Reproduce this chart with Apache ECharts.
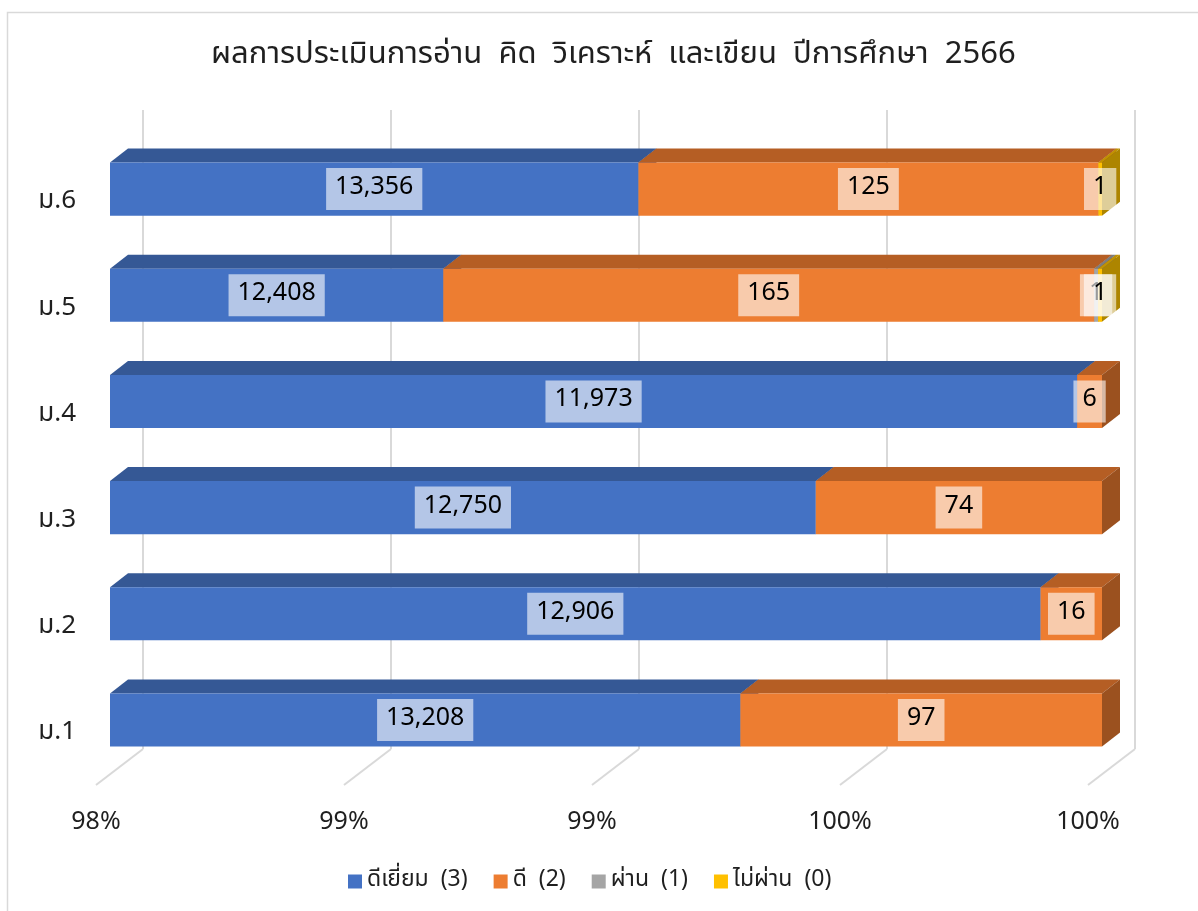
<!DOCTYPE html>
<html>
<head>
<meta charset="utf-8">
<script src="https://cdn.jsdelivr.net/npm/echarts@6/dist/echarts.min.js"></script>
<style>
  html, body { margin: 0; padding: 0; background: #ffffff; }
  #chart { width: 1198px; height: 911px; }
</style>
</head>
<body>
<div id="chart"></div>
<script>
// Reading / thinking / analysis / writing assessment, academic year 2566
const titleText = 'ผลการประเมินการอ่าน  คิด  วิเคราะห์  และเขียน  ปีการศึกษา  2566';
const grades = ['ม.1', 'ม.2', 'ม.3', 'ม.4', 'ม.5', 'ม.6'];
const levelNames = ['ดีเยี่ยม  (3)', 'ดี  (2)', 'ผ่าน  (1)', 'ไม่ผ่าน  (0)'];

// Student counts per level, one entry per grade (ม.1 … ม.6)
const excellent = [13208, 12906, 12750, 11973, 12408, 13356];
const good      = [97, 16, 74, 6, 165, 125];
const pass      = [0, 0, 0, 0, 1, 0];
const fail      = [0, 0, 0, 0, 1, 1];

// Percentage axis
const xMin = 0.98;
const xMax = 1.0;
const xStep = 0.005;
const xTickValues = [0.98, 0.985, 0.99, 0.995, 1.0];
const xTickLabels = ['98%', '99%', '99%', '100%', '100%'];

// Face colours: front, top, side
const palette = [
  { front: '#4472C4', top: '#355895', side: '#2E4D84' },
  { front: '#ED7D31', top: '#B55E24', side: '#9B511F' },
  { front: '#A5A5A5', top: '#7E7E7E', side: '#6C6C6C' },
  { front: '#FFC000', top: '#C29200', side: '#AD8500' }
];

const FONT = "'Noto Sans Thai', 'Leelawadee UI', Tahoma, 'Noto Sans', sans-serif";
const TEXT_COLOR = '#1f1f1f';

// 3D depth of each bar and of the wall/floor
const DEPTH_DX = 18, DEPTH_DY = 14;
const WALL_DX = 33, WALL_TOP = 26, FLOOR_BACK = 24, FLOOR_FRONT = 12, FLOOR_DX = 14;

const levels = [excellent, good, pass, fail];
const totals = grades.map((_, i) => levels.reduce((s, arr) => s + arr[i], 0));

// Cumulative share of each segment: [gradeIndex, startShare, endShare, count]
function segmentData(levelIdx) {
  return grades.map((_, i) => {
    let before = 0;
    for (let k = 0; k < levelIdx; k++) before += levels[k][i];
    const n = levels[levelIdx][i];
    return [i, before / totals[i], (before + n) / totals[i], n];
  });
}

function fmt(n) { return n.toLocaleString('en-US'); }

function barRenderer(levelIdx) {
  const c = palette[levelIdx];
  return function (params, api) {
    const cat = api.value(0);
    const n = api.value(3);
    const e = api.value(2);
    if (!n || e <= xMin) return null;
    const s = Math.max(api.value(1), xMin);
    const p0 = api.coord([s, cat]);
    const p1 = api.coord([e, cat]);
    const h = api.size([0, 1])[1] * 0.5;
    const x0 = p0[0], x1 = p1[0];
    const yT = p0[1] - h / 2, yB = p0[1] + h / 2;
    const children = [
      { type: 'polygon', z2: 1,
        shape: { points: [[x0, yT], [x0 + DEPTH_DX, yT - DEPTH_DY], [x1 + DEPTH_DX, yT - DEPTH_DY], [x1, yT]] },
        style: { fill: c.top } },
      { type: 'polygon', z2: 1,
        shape: { points: [[x1, yT], [x1 + DEPTH_DX, yT - DEPTH_DY], [x1 + DEPTH_DX, yB - DEPTH_DY], [x1, yB]] },
        style: { fill: c.side } },
      { type: 'rect', z2: 1,
        shape: { x: x0, y: yT, width: Math.max(x1 - x0, 0.8), height: h },
        style: { fill: c.front } },
      { type: 'text', z2: 100,
        style: {
          text: fmt(n), x: (x0 + x1) / 2, y: p0[1],
          align: 'center', verticalAlign: 'middle',
          fontSize: 25, fontFamily: FONT, fill: '#000000',
          lineHeight: 26,
          backgroundColor: 'rgba(255,255,255,0.6)', padding: [8, 9]
        } }
    ];
    return { type: 'group', children: children };
  };
}

function gridRenderer(params, api) {
  const cs = params.coordSys;
  const x = api.coord([api.value(0), 0])[0];
  const bottom = cs.y + cs.height;
  const style = { stroke: '#D9D9D9', lineWidth: 2, fill: null };
  return {
    type: 'group',
    children: [
      { type: 'line', shape: { x1: x + WALL_DX, y1: cs.y - WALL_TOP, x2: x + WALL_DX, y2: bottom - FLOOR_BACK }, style: style },
      { type: 'line', shape: { x1: x + WALL_DX, y1: bottom - FLOOR_BACK, x2: x - FLOOR_DX, y2: bottom + FLOOR_FRONT }, style: style }
    ]
  };
}

const chart = echarts.init(document.getElementById('chart'), null, { renderer: 'canvas' });

const series = [{
  type: 'custom',
  name: 'grid',
  silent: true,
  z: 1,
  renderItem: gridRenderer,
  data: xTickValues.map(v => [v])
}];
levels.forEach((_, k) => {
  series.push({
    type: 'custom',
    name: levelNames[k],
    z: 2,
    itemStyle: { color: palette[k].front },
    renderItem: barRenderer(k),
    encode: { x: [1, 2], y: 0 },
    data: segmentData(k)
  });
});

chart.setOption({
  animation: false,
  backgroundColor: '#ffffff',
  graphic: [{
    type: 'rect',
    shape: { x: 7.5, y: 12.5, width: 1400, height: 1100 },
    style: { fill: null, stroke: '#D9D9D9', lineWidth: 1.5 },
    silent: true
  }],
  title: {
    text: titleText,
    left: 206,
    top: 36,
    textStyle: { fontFamily: FONT, fontSize: 31, fontWeight: 'normal', color: TEXT_COLOR }
  },
  legend: {
    bottom: 13,
    left: 343,
    data: levelNames,
    icon: 'rect',
    itemWidth: 14,
    itemHeight: 14,
    itemGap: 26,
    textStyle: { fontFamily: FONT, fontSize: 23, color: TEXT_COLOR }
  },
  grid: { left: 110, right: 96, top: 136, bottom: 911 - 773, containLabel: false },
  xAxis: {
    type: 'value',
    min: xMin,
    max: xMax,
    interval: xStep,
    axisLine: { show: false },
    axisTick: { show: false },
    splitLine: { show: false },
    axisLabel: {
      margin: 38,
      padding: [0, 28, 0, 0],
      fontFamily: FONT,
      fontSize: 25,
      color: TEXT_COLOR,
      formatter: function (v) {
        const idx = xTickValues.findIndex(t => Math.abs(t - v) < 1e-9);
        return idx >= 0 ? xTickLabels[idx] : '';
      }
    }
  },
  yAxis: {
    type: 'category',
    data: grades,
    axisLine: { show: false },
    axisTick: { show: false },
    axisLabel: {
      margin: 34,
      verticalAlign: 'top',
      lineHeight: 28,
      fontFamily: FONT,
      fontSize: 26,
      color: TEXT_COLOR
    }
  },
  series: series
});
</script>
</body>
</html>
